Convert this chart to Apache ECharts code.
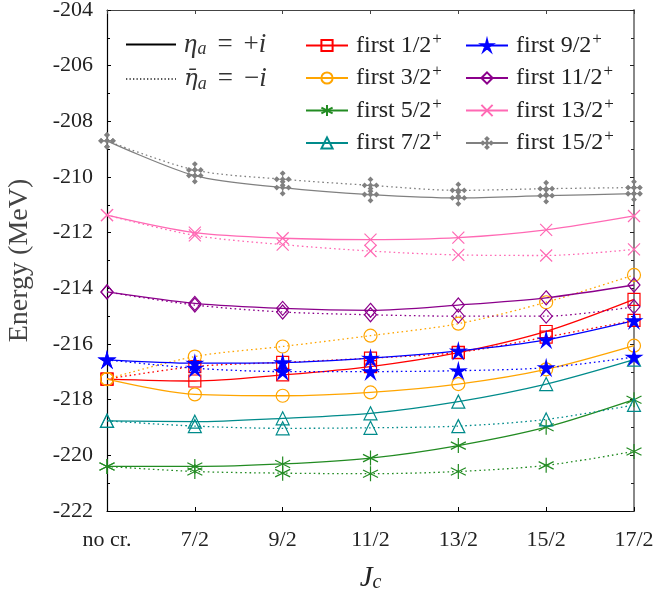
<!DOCTYPE html>
<html><head><meta charset="utf-8">
<script src="https://cdn.jsdelivr.net/npm/echarts@6/dist/echarts.min.js"></script>
<style>html,body{margin:0;padding:0;background:#fff}#c{width:655px;height:590px}</style>
</head><body><div id="c"></div>
<script>
const categories = ['no cr.', '7/2', '9/2', '11/2', '13/2', '15/2', '17/2'];
const yMin = -222, yMax = -204, yStep = 2;

const s12_solid  = [-217.26, -217.33, -217.11, -216.81, -216.31, -215.55, -214.40];
const s12_dotted = [-217.26, -216.81, -216.66, -216.51, -216.30, -215.75, -215.15];
const s32_solid  = [-217.26, -217.81, -217.86, -217.74, -217.44, -216.91, -216.06];
const s32_dotted = [-217.26, -216.45, -216.09, -215.70, -215.27, -214.50, -213.52];
const s52_solid  = [-220.40, -220.40, -220.31, -220.10, -219.65, -218.99, -218.00];
const s52_dotted = [-220.40, -220.58, -220.64, -220.66, -220.58, -220.36, -219.86];
const s72_solid  = [-218.76, -218.79, -218.67, -218.49, -218.07, -217.44, -216.56];
const s72_dotted = [-218.76, -218.95, -219.03, -219.01, -218.95, -218.71, -218.19];
const s92_solid  = [-216.57, -216.69, -216.67, -216.51, -216.25, -215.85, -215.16];
const s92_dotted = [-216.57, -216.87, -216.99, -216.99, -216.96, -216.85, -216.47];
const s112_solid  = [-214.13, -214.54, -214.72, -214.79, -214.60, -214.34, -213.88];
const s112_dotted = [-214.13, -214.60, -214.85, -214.95, -215.00, -215.00, -214.66];
const s132_solid  = [-211.37, -212.00, -212.20, -212.25, -212.18, -211.90, -211.40];
const s132_dotted = [-211.37, -212.10, -212.43, -212.66, -212.80, -212.82, -212.60];
const s152_solid  = [-208.70, -209.95, -210.38, -210.63, -210.75, -210.67, -210.60];
const s152_dotted = [-208.70, -209.75, -210.08, -210.30, -210.48, -210.42, -210.38];

const SERIF = 'Liberation Serif, serif';
const SERIF2 = 'DejaVu Serif, serif';

const STAR = 'path://M0,-10L1.8,-3.0L9.51,-3.09L3.0,1.0L5.88,8.09L0,3.3L-5.88,8.09L-3.0,1.0L-9.51,-3.09L-1.8,-3.0Z';
const ASTER = 'path://M0,-10L0,10M-9,-5L9,5M-9,5L9,-5';
const CROSS = 'path://M-10,-10L10,10M-10,10L10,-10';
const CLUSTER = 'path://M0,-10L0,10M-10,0L10,0M0,-10l2.6,2.6l-2.6,2.6l-2.6,-2.6zM0,10l2.6,-2.6l-2.6,-2.6l-2.6,2.6zM-10,0l2.6,-2.6l2.6,2.6l-2.6,2.6zM10,0l-2.6,-2.6l-2.6,2.6l2.6,2.6zM0,-2.6l2.6,2.6l-2.6,2.6l-2.6,-2.6z';

const defs = [
  {name: 'first 1/2', color: '#ff0000', sym: 'rect', size: 12, fill: false, solid: s12_solid, dotted: s12_dotted},
  {name: 'first 3/2', color: '#ffa500', sym: 'circle', size: 13, fill: false, solid: s32_solid, dotted: s32_dotted},
  {name: 'first 5/2', color: '#228b22', sym: ASTER, size: 15, fill: false, solid: s52_solid, dotted: s52_dotted},
  {name: 'first 7/2', color: '#008b8b', sym: 'triangle', size: 13, fill: false, solid: s72_solid, dotted: s72_dotted},
  {name: 'first 9/2', color: '#0000ff', sym: STAR, size: 15, fill: true, solid: s92_solid, dotted: s92_dotted},
  {name: 'first 11/2', color: '#8b008b', sym: 'diamond', size: [12, 14], fill: false, solid: s112_solid, dotted: s112_dotted},
  {name: 'first 13/2', color: '#ff69b4', sym: CROSS, size: 12, fill: false, solid: s132_solid, dotted: s132_dotted},
  {name: 'first 15/2', color: '#808080', sym: CLUSTER, size: 16, fill: true, solid: s152_solid, dotted: s152_dotted}
];

const series = [];
defs.forEach(d => {
  [['solid', d.solid], ['dotted', d.dotted]].forEach(([kind, arr]) => {
    series.push({
      name: kind === 'solid' ? d.name : d.name + ' (dotted)',
      type: 'line',
      data: arr,
      smooth: 0.3,
      symbol: d.sym,
      symbolSize: d.size,
      showSymbol: true,
      lineStyle: {color: d.color, width: 1.3, type: kind === 'solid' ? 'solid' : [1.6, 3]},
      itemStyle: {color: d.fill ? d.color : 'transparent', borderColor: d.color, borderWidth: 1.2},
      emphasis: {disabled: true},
      z: 3
    });
  });
});
series.push({name: 'etaP', type: 'line', data: [], symbol: 'none', symbolSize: 0, lineStyle: {color: '#000', width: 1.2, type: 'solid'}, itemStyle: {color: '#000', opacity: 0}});
series.push({name: 'etaM', type: 'line', data: [], symbol: 'none', symbolSize: 0, lineStyle: {color: '#555', width: 1.3, type: [1.3, 2.2]}, itemStyle: {color: '#555', opacity: 0}});

const legendRich = {
  t: {fontFamily: SERIF, fontSize: 24, color: '#222'},
  q: {fontFamily: SERIF, fontSize: 27, color: '#333'},
  m: {fontFamily: SERIF, fontSize: 27, fontStyle: 'italic', color: '#333'},
  mb: {fontFamily: SERIF2, fontSize: 23, fontStyle: 'italic', color: '#333'},
  sub: {fontFamily: SERIF, fontSize: 18, fontStyle: 'italic', color: '#333', padding: [10, 0, 0, 0]},
  sup: {fontFamily: SERIF, fontSize: 17, color: '#222', padding: [0, 0, 12, 1]},
  w1: {width: 11}, w2: {width: 6},
  gap: {width: 3}
};
const legendLabels = {
  'etaP': '{gap|}{m|η}{sub|a}{w1|}{q|=}{w1|}{q|+}{m|i}',
  'etaM': '{gap|}{mb|η̄}{sub|a}{w1|}{q|=}{w1|}{q|−}{m|i}'
};
defs.forEach(d => { legendLabels[d.name] = '{gap|}{t|' + d.name + '}{sup|+}'; });
const fmt = n => legendLabels[n] || n;

const baseLegend = {
  orient: 'vertical', itemWidth: 42, itemHeight: 14, itemGap: 6,
  selectedMode: false, formatter: fmt,
  textStyle: {fontFamily: SERIF, rich: legendRich, lineHeight: 20}
};

const option = {
  animation: false,
  backgroundColor: '#fff',
  textStyle: {fontFamily: SERIF},
  grid: {left: 107, right: 21, top: 10, bottom: 79, containLabel: false, outerBoundsMode: 'none'},
  legend: [
    Object.assign({}, baseLegend, {left: 120, top: 26, itemWidth: 50, itemGap: 7,
      data: [{name: 'etaP', itemStyle: {opacity: 0}}, {name: 'etaM', itemStyle: {opacity: 0}}]}),
    Object.assign({}, baseLegend, {left: 300, top: 26, data: defs.slice(0, 4).map(d => d.name)}),
    Object.assign({}, baseLegend, {left: 460, top: 26, data: defs.slice(4).map(d => d.name)})
  ],
  xAxis: [
    {type: 'category', data: categories, boundaryGap: false, position: 'bottom',
     axisLine: {lineStyle: {color: '#000', width: 1.2}},
     axisTick: {inside: true, length: 4, lineStyle: {color: '#000'}},
     axisLabel: {fontFamily: SERIF, fontSize: 22, color: '#222', margin: 18},
     splitLine: {show: false},
     name: '{i|J}{s|c}', nameLocation: 'middle', nameGap: 52,
     nameTextStyle: {fontFamily: SERIF, rich: {i: {fontFamily: SERIF, fontSize: 29, fontStyle: 'italic', color: '#222'},
                            s: {fontFamily: SERIF, fontSize: 20, fontStyle: 'italic', color: '#222', padding: [10, 0, 0, 0]}}}},
    {type: 'category', data: categories, boundaryGap: false, position: 'top',
     axisLine: {lineStyle: {color: '#444', width: 1.2}},
     axisTick: {inside: true, length: 4, lineStyle: {color: '#444'}},
     axisLabel: {show: false}, splitLine: {show: false}}
  ],
  yAxis: [
    {type: 'value', min: yMin, max: yMax, interval: yStep, position: 'left',
     axisLine: {show: true, lineStyle: {color: '#000', width: 1.2}},
     axisTick: {show: true, inside: true, length: 4, lineStyle: {color: '#000'}},
     minorTick: {show: true, splitNumber: 2, length: 3, lineStyle: {color: '#000'}},
     axisLabel: {fontFamily: SERIF, fontSize: 22, color: '#222', margin: 14},
     splitLine: {show: false},
     name: 'Energy (MeV)', nameLocation: 'middle', nameGap: 73,
     nameTextStyle: {fontFamily: SERIF, fontSize: 28, color: '#444'}},
    {type: 'value', min: yMin, max: yMax, interval: yStep, position: 'right',
     axisLine: {show: true, lineStyle: {color: '#888', width: 2}},
     axisTick: {show: true, inside: true, length: 4, lineStyle: {color: '#222'}},
     minorTick: {show: true, splitNumber: 2, length: 3, lineStyle: {color: '#222'}},
     axisLabel: {show: false}, splitLine: {show: false}}
  ],
  series: series
};
const chart = echarts.init(document.getElementById('c'), null, {renderer: 'canvas'});
chart.setOption(option);
</script></body></html>
